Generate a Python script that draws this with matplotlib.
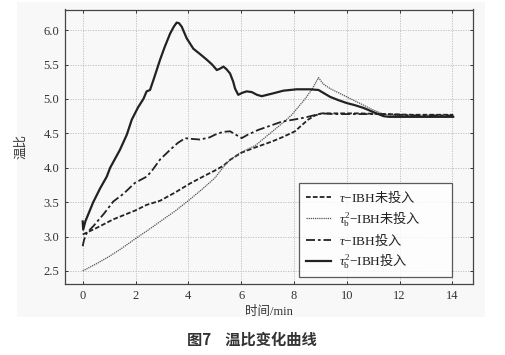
import matplotlib
matplotlib.use("Agg")
import matplotlib.pyplot as plt
from matplotlib.patches import Rectangle

# ---------------- data ----------------
legend_labels = [r"$\tau\mathsf{-IBH}$未投入", r"$\tau_{\mathsf{b}}^{\mathsf{2}}\mathsf{-IBH}$未投入",
                 r"$\tau\mathsf{-IBH}$投入", r"$\tau_{\mathsf{b}}^{\mathsf{2}}\mathsf{-IBH}$投入"]

t_dashed = [0, 0.5, 1.16, 2.0, 2.42, 2.93, 3.5, 4.06, 4.6, 5.01, 5.33, 5.6, 6.02, 6.5,
            7.16, 7.6, 8.04, 8.3, 8.54, 8.8, 9.05, 9.5, 10.5, 11.4, 12.5, 14.03]
v_dashed = [3.03, 3.12, 3.25, 3.38, 3.46, 3.52, 3.64, 3.77, 3.88, 3.96, 4.03, 4.12, 4.22, 4.29,
            4.38, 4.45, 4.53, 4.62, 4.70, 4.76, 4.79, 4.79, 4.79, 4.78, 4.77, 4.77]

t_dotted = [0, 0.5, 1.0, 1.41, 2.0, 2.5, 3.05, 3.5, 4.06, 4.5, 5.0, 5.45, 5.89, 6.3, 6.53,
            7.16, 7.6, 7.92, 8.42, 8.7, 8.93, 9.1, 9.37, 10.0, 10.63, 11.0, 11.39, 11.8, 12.5, 14.03]
v_dotted = [2.50, 2.60, 2.71, 2.81, 2.97, 3.10, 3.25, 3.37, 3.54, 3.68, 3.85, 4.07, 4.20, 4.28, 4.32,
            4.52, 4.66, 4.77, 5.00, 5.15, 5.31, 5.22, 5.15, 5.03, 4.91, 4.84, 4.78, 4.76, 4.76, 4.76]

t_dashdot = [0, 0.05, 0.15, 0.4, 0.8, 1.16, 1.54, 1.98, 2.42, 2.61, 2.93, 3.31, 3.6, 3.88, 4.1,
             4.44, 4.8, 5.01, 5.3, 5.58, 5.8, 6.02, 6.25, 6.65, 7.1, 7.54, 8.0, 8.42, 9.05, 9.5,
             10.5, 11.4, 12.5, 14.03]
v_dashdot = [2.86, 2.95, 3.05, 3.15, 3.33, 3.51, 3.62, 3.78, 3.87, 3.95, 4.12, 4.26, 4.36, 4.43, 4.42,
             4.41, 4.44, 4.48, 4.52, 4.53, 4.48, 4.43, 4.48, 4.55, 4.61, 4.67, 4.70, 4.73, 4.79, 4.78,
             4.78, 4.78, 4.76, 4.76]

t_solid = [0, 0.02, 0.1, 0.4, 0.66, 0.91, 1.04, 1.41, 1.67, 1.86, 2.1, 2.3, 2.42, 2.55, 2.7, 2.93,
           3.1, 3.31, 3.45, 3.56, 3.65, 3.75, 3.94, 4.19, 4.45, 4.70, 4.9, 5.08, 5.2, 5.33, 5.45,
           5.58, 5.7, 5.77, 5.89, 6.05, 6.21, 6.4, 6.6, 6.78, 7.2, 7.6, 8.1, 8.6, 8.93, 9.15, 9.37,
           9.7, 10.0, 10.3, 10.63, 11.0, 11.39, 11.6, 12.5, 14.03]
v_solid = [3.22, 3.10, 3.22, 3.50, 3.70, 3.87, 4.00, 4.26, 4.48, 4.70, 4.88, 5.00, 5.11, 5.13, 5.30, 5.57,
           5.75, 5.95, 6.05, 6.11, 6.10, 6.05, 5.88, 5.73, 5.65, 5.57, 5.50, 5.42, 5.44, 5.47, 5.43,
           5.37, 5.25, 5.15, 5.06, 5.09, 5.11, 5.10, 5.06, 5.04, 5.08, 5.12, 5.14, 5.14, 5.13, 5.08, 5.03,
           4.98, 4.94, 4.91, 4.87, 4.81, 4.75, 4.74, 4.74, 4.74]

x_ticks = [0, 2, 4, 6, 8, 10, 12, 14]
y_ticks = [2.5, 3.0, 3.5, 4.0, 4.5, 5.0, 5.5, 6.0]

# ---------------- figure ----------------
plt.rcParams['mathtext.fontset'] = 'custom'
plt.rcParams['mathtext.rm'] = 'Liberation Serif'
plt.rcParams['mathtext.it'] = 'Liberation Serif:italic'
plt.rcParams['mathtext.sf'] = 'Liberation Serif'
serif = ['Liberation Serif', 'Noto Sans CJK SC']

fig = plt.figure(figsize=(5.06, 3.55), dpi=100)
fig.patch.set_facecolor('white')
fig.patches.append(Rectangle((17 / 506, 1 - 317 / 355), (485 - 17) / 506, (317 - 2) / 355,
                             transform=fig.transFigure, facecolor='#f8f8f8',
                             edgecolor='none', zorder=-10))

ax = fig.add_axes([65 / 506, 71 / 355, 408 / 506, 274.5 / 355])
ax.set_facecolor('none')

lc = '#222222'
ax.plot(t_dashed, v_dashed, color=lc, lw=1.3, dashes=(2.6, 1.2), label=legend_labels[0])
ax.plot(t_dotted, v_dotted, color='#555555', lw=0.9, dashes=(1.0, 0.7), label=legend_labels[1])
ax.plot(t_dashdot, v_dashdot, color=lc, lw=1.3, dashes=(5, 1.6, 1.5, 1.6), label=legend_labels[2])
ax.plot(t_solid, v_solid, color=lc, lw=1.6, label=legend_labels[3])

ax.set_xlim(-0.67, 14.78)
ax.set_ylim(2.31, 6.30)
ax.set_xticks(x_ticks)
ax.set_yticks(y_ticks)
ax.set_xticklabels([str(v) for v in x_ticks], family=serif, fontsize=9)
ax.set_yticklabels([f"{v:.1f}" for v in y_ticks], family=serif, fontsize=9)
ax.tick_params(direction='in', length=2.5, width=0.7, top=True, right=True,
               colors='#333333', pad=4)
ax.grid(True, color='#bbbbbb', linestyle=(0, (1.5, 1.5)), lw=0.6)
for s in ax.spines.values():
    s.set_color('#444444')
    s.set_linewidth(0.9)

ax.set_xlabel('时间/min', family=serif, fontsize=9, color='#333333', labelpad=3)
ax.set_ylabel('温比', family=serif, fontsize=9, color='#333333', labelpad=12)

leg = ax.legend(loc='lower left', bbox_to_anchor=(0.574, 0.026, 0.374, 0.294),
                mode='expand', prop={'family': 'Noto Sans CJK SC', 'size': 9.5}, frameon=True,
                fancybox=False, handlelength=1.9, handletextpad=0.6,
                labelspacing=0.35, borderpad=0.5, borderaxespad=0)
leg.get_frame().set_edgecolor('#333333')
leg.get_frame().set_linewidth(0.9)
leg.get_frame().set_facecolor('white')
for txt in leg.get_texts():
    txt.set_color('#222222')

fig.text(252 / 506, 1 - 340 / 355, '图7    温比变化曲线', ha='center', va='center',
         fontsize=11, fontweight='bold', family=['Noto Sans CJK SC', 'DejaVu Sans'],
         color='#333333')

fig.savefig('out.png', dpi=100)
